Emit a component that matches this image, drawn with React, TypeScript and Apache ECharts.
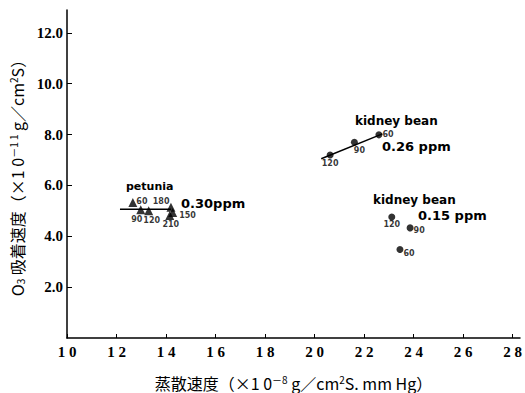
import React, { useEffect, useRef } from "react";
import * as echarts from "echarts";

// Petunia, 0.30 ppm (triangles)
const petuniaX = [12.66, 12.98, 13.3, 14.2, 14.27, 14.15];
const petuniaY = [5.33, 5.04, 5.0, 5.14, 4.94, 4.82];
const petuniaT = ["60", "90", "120", "180", "150", "210"];
const petuniaLineX = [12.14, 14.2];
const petuniaLineY = [5.06, 5.06];

// Kidney bean, 0.26 ppm
const bean26X = [20.63, 21.61, 22.6];
const bean26Y = [7.2, 7.7, 7.99];
const bean26T = ["120", "90", "60"];
const bean26LineX = [20.27, 22.74];
const bean26LineY = [7.05, 8.03];

// Kidney bean, 0.15 ppm
const bean15X = [23.12, 23.86, 23.45];
const bean15Y = [4.76, 4.33, 3.48];
const bean15T = ["120", "90", "60"];

const xTicks = [10, 12, 14, 16, 18, 20, 22, 24, 26, 28];
const yTicks = [2, 4, 6, 8, 10, 12];

// label placement (style only)
const petuniaLabelPos: [string, number[]][] = [
  ["right", [-3, -1]],
  ["bottom", [-4, -1]],
  ["bottom", [3, -1]],
  ["left", [5, -6]],
  ["right", [0, 3]],
  ["bottom", [1, -1]],
];
const bean26LabelPos: [string, number[]][] = [
  ["bottom", [0, -1]],
  ["bottom", [5, -1]],
  ["right", [-2, 0]],
];
const bean15LabelPos: [string, number[]][] = [
  ["bottom", [0, -2]],
  ["right", [-2, 3]],
  ["right", [-2, 4]],
];

function pts(xs: number[], ys: number[], ts: string[], pos: [string, number[]][]) {
  return xs.map((x, i) => ({
    value: [x, ys[i]],
    label: {
      show: true,
      formatter: ts[i],
      position: pos[i][0],
      offset: pos[i][1],
      distance: 2,
      fontSize: 8,
      fontWeight: "bold",
      fontFamily: "DejaVu Sans",
      color: "#000",
    },
  }));
}

function line(xs: number[], ys: number[]) {
  return xs.map((x, i) => [x, ys[i]]);
}

const annot = (text: string, x: number, y: number, size: number) => ({
  type: "text",
  x,
  y,
  style: {
    text,
    fill: "#000",
    font: `bold ${size}px "DejaVu Sans"`,
    textVerticalAlign: "middle",
  },
});

const nameRich = {
  a: { fontFamily: "Noto Sans CJK JP", fontSize: 16, color: "#000", lineHeight: 17 },
  s: { fontFamily: "Noto Sans CJK JP", fontSize: 10, color: "#000", verticalAlign: "top", lineHeight: 17 },
  b: { fontFamily: "Noto Sans CJK JP", fontSize: 10, color: "#000", verticalAlign: "bottom", lineHeight: 17 },
};

export default function App() {
  const ref = useRef<HTMLDivElement>(null);
  useEffect(() => {
    if (!ref.current) return;
    const chart = echarts.init(ref.current, undefined, { renderer: "svg" });
    const axisFont = { fontFamily: "Liberation Serif", fontWeight: "bold", fontSize: 15, color: "#000" };
    chart.setOption({
      animation: false,
      backgroundColor: "#fff",
      grid: { left: 67, right: 5, top: 10, bottom: 55, containLabel: false, outerBoundsMode: "none" },
      xAxis: {
        type: "value",
        min: 10,
        max: 28.3,
        interval: 2,
        splitLine: { show: false },
        axisLine: { lineStyle: { color: "#000", width: 1.5 } },
        axisTick: { inside: true, length: 4, customValues: xTicks, lineStyle: { color: "#000" } },
        axisLabel: { ...axisFont, margin: 6, customValues: xTicks, formatter: (v: number) => String(v).split("").join(" ") },
        name: "{a|蒸散速度（×1 0}{s|－8}{a| g／cm}{s|2}{a|S. mm Hg）}",
        nameLocation: "middle",
        nameGap: 36,
        nameTextStyle: { rich: nameRich },
      },
      yAxis: {
        type: "value",
        min: 0,
        max: 12.9,
        interval: 2,
        splitLine: { show: false },
        axisLine: { lineStyle: { color: "#000", width: 1.5 } },
        axisTick: { inside: true, length: 5, customValues: yTicks, lineStyle: { color: "#000" } },
        axisLabel: { ...axisFont, margin: 4, customValues: yTicks, formatter: (v: number) => v.toFixed(1) },
        name: "{a|O}{b|3}{a| 吸着速度（×1 0}{s|－1 1}{a| g／cm}{s|2}{a|S）}",
        nameLocation: "middle",
        nameRotate: 90,
        nameGap: 41,
        nameTextStyle: { rich: nameRich },
      },
      series: [
        {
          type: "line",
          data: line(petuniaLineX, petuniaLineY),
          symbol: "none",
          lineStyle: { color: "#000", width: 1.5 },
        },
        {
          type: "line",
          data: line(bean26LineX, bean26LineY),
          symbol: "none",
          lineStyle: { color: "#000", width: 1.5 },
        },
        {
          type: "scatter",
          symbol: "triangle",
          symbolSize: 9,
          itemStyle: { color: "#000" },
          data: pts(petuniaX, petuniaY, petuniaT, petuniaLabelPos),
        },
        {
          type: "scatter",
          symbol: "circle",
          symbolSize: 7,
          itemStyle: { color: "#000" },
          data: pts(bean26X, bean26Y, bean26T, bean26LabelPos),
        },
        {
          type: "scatter",
          symbol: "circle",
          symbolSize: 7,
          itemStyle: { color: "#000" },
          data: pts(bean15X, bean15Y, bean15T, bean15LabelPos),
        },
      ],
      graphic: [
        annot("petunia", 126, 186, 11),
        annot("0.30ppm", 181, 203, 13),
        annot("kidney bean", 355, 121, 12),
        annot("0.26 ppm", 382, 146, 13),
        annot("kidney bean", 373, 200, 12),
        annot("0.15 ppm", 418, 215, 13),
      ],
    });
    return () => chart.dispose();
  }, []);
  return <div ref={ref} style={{ width: 525, height: 393, position: "absolute", left: 0, top: 0 }} />;
}
